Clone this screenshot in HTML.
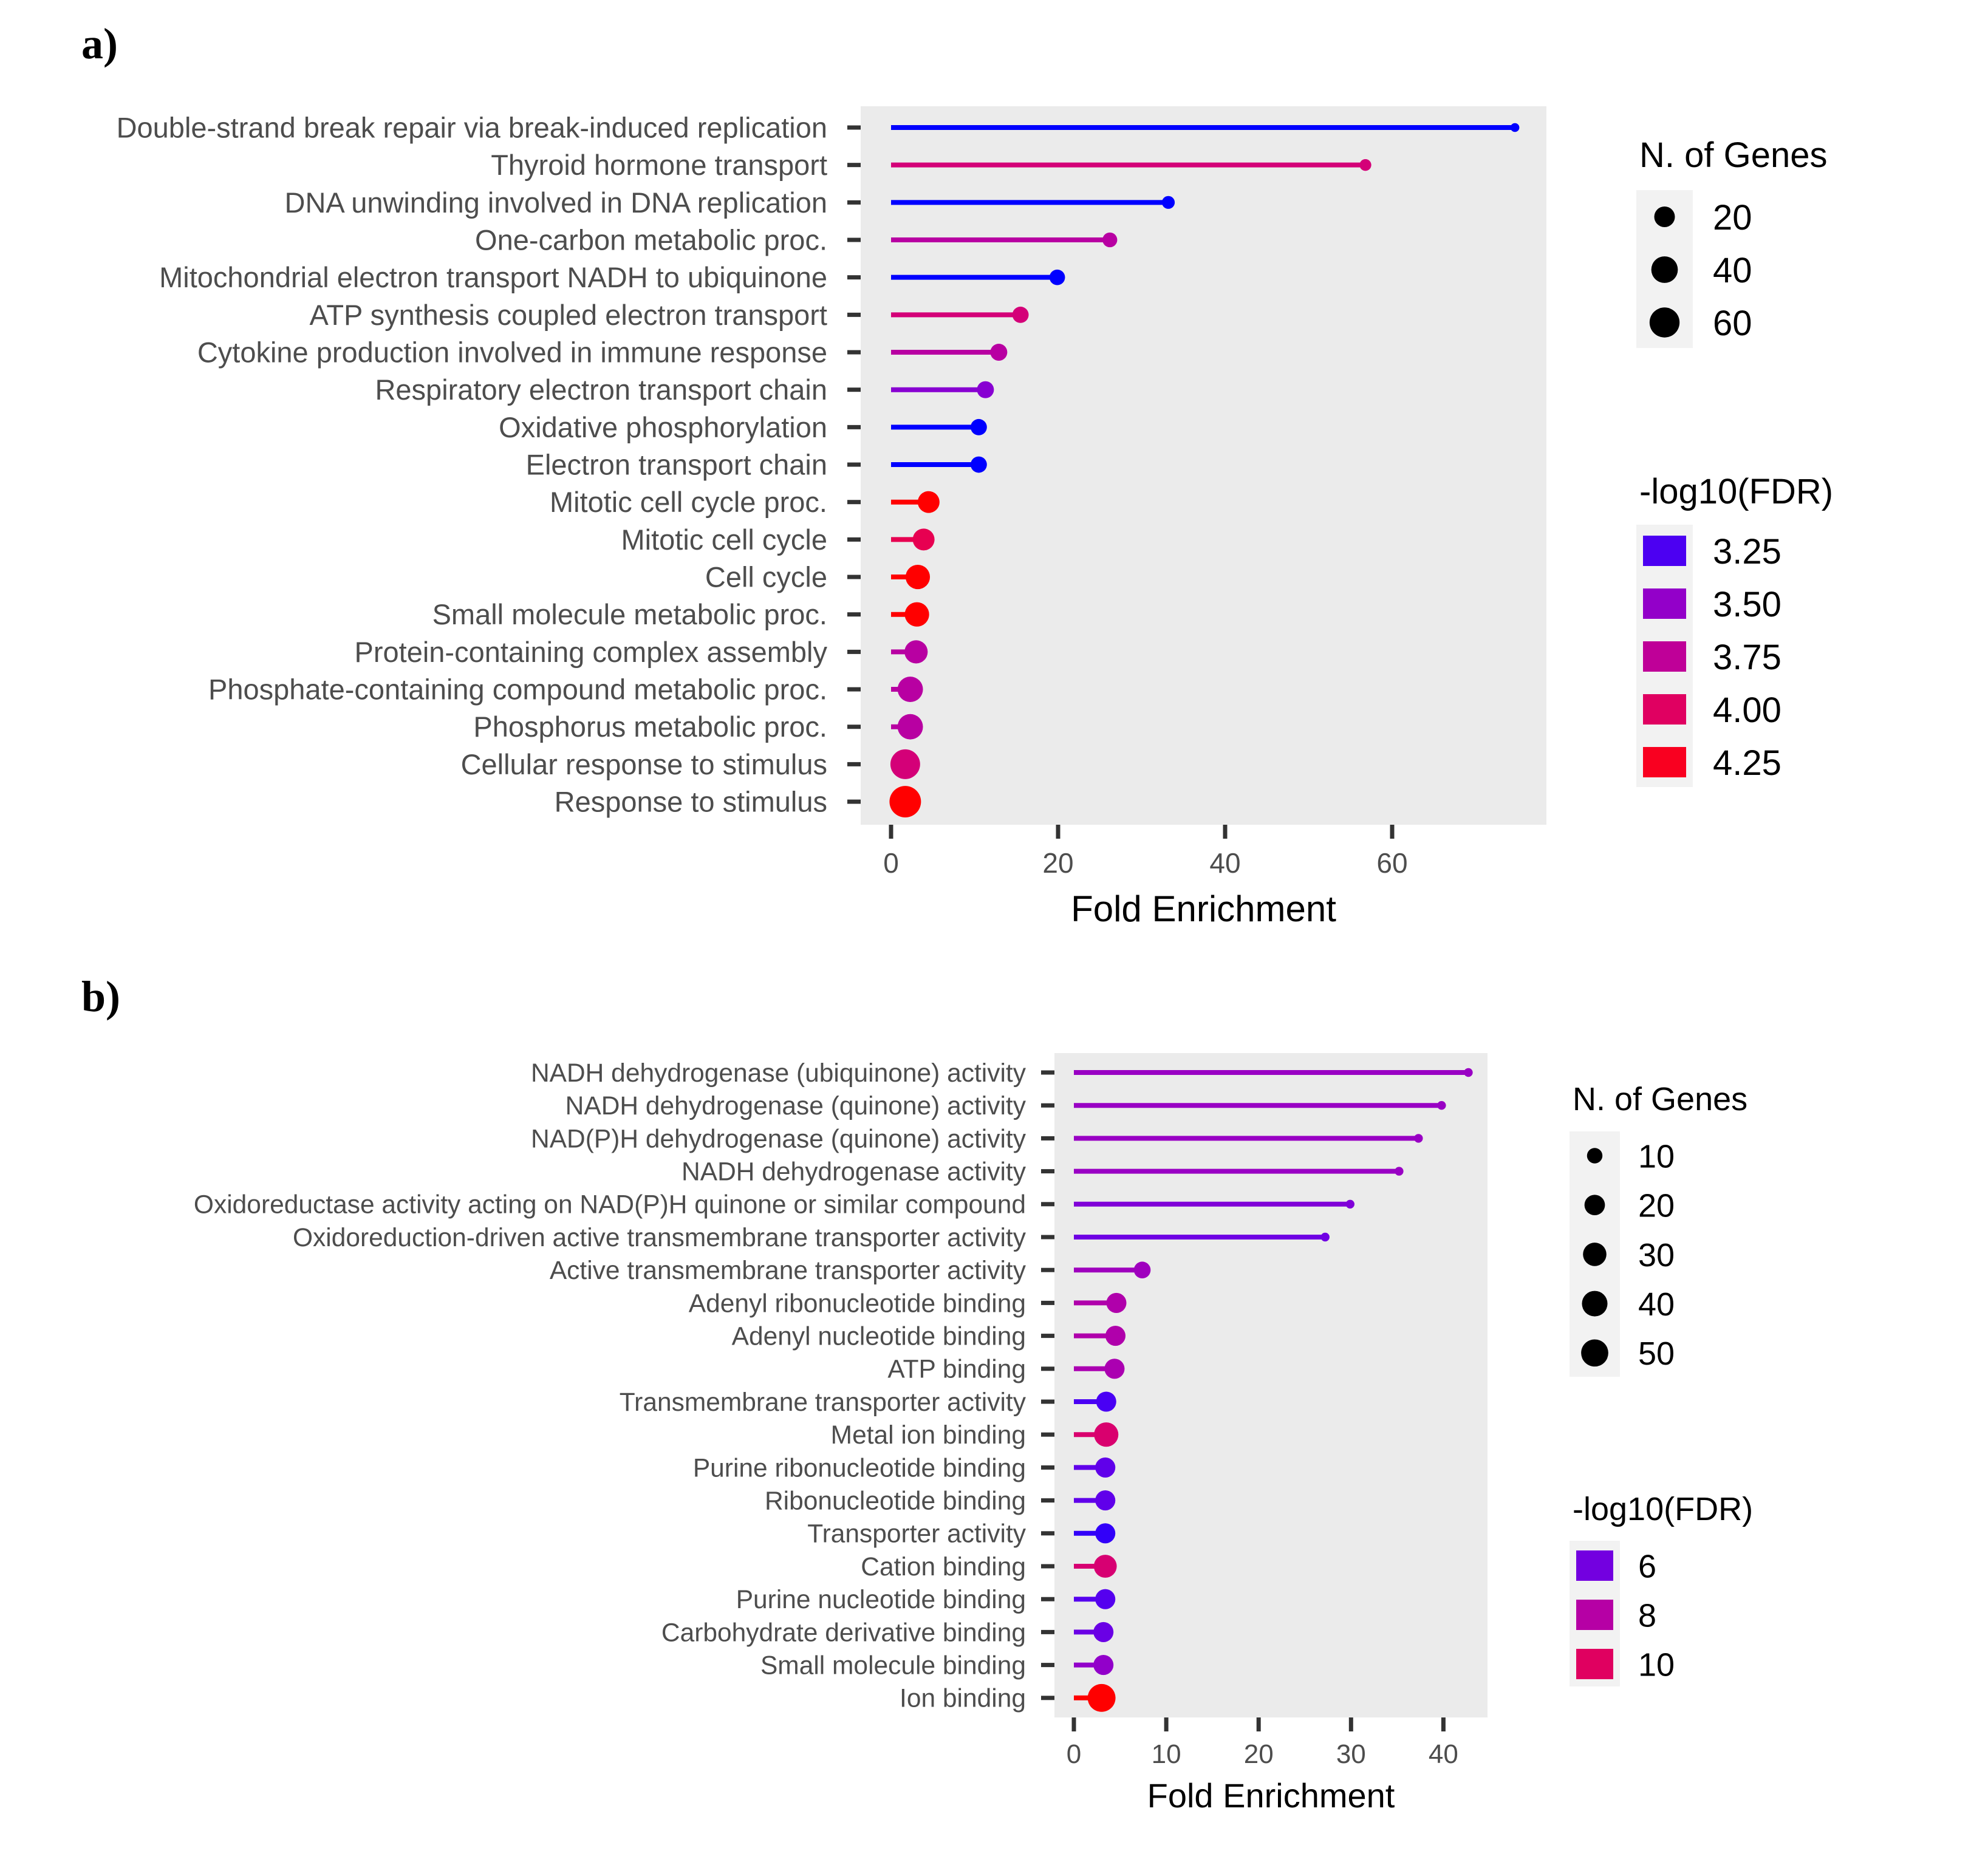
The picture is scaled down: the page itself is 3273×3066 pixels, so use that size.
<!DOCTYPE html>
<html><head><meta charset="utf-8">
<style>
html,body{margin:0;padding:0;background:#fff;}
svg{display:block;}
</style></head>
<body>
<svg id="fig" width="3273" height="3066" viewBox="0 0 3273 3066" xmlns="http://www.w3.org/2000/svg" font-family="Liberation Sans, sans-serif">
<rect x="0" y="0" width="3273" height="3066" fill="#fff"/>
<text x="134" y="96" style="font-family:'Liberation Serif',serif;font-weight:bold;font-size:72px" fill="#000">a)</text>
<text x="134" y="1665" style="font-family:'Liberation Serif',serif;font-weight:bold;font-size:72px" fill="#000">b)</text>
<g id="panelA"></g>
<g id="panelB"></g>
</svg>
<script>
// ---------- Panel A data ----------
const catsA = ["Double-strand break repair via break-induced replication","Thyroid hormone transport","DNA unwinding involved in DNA replication","One-carbon metabolic proc.","Mitochondrial electron transport NADH to ubiquinone","ATP synthesis coupled electron transport","Cytokine production involved in immune response","Respiratory electron transport chain","Oxidative phosphorylation","Electron transport chain","Mitotic cell cycle proc.","Mitotic cell cycle","Cell cycle","Small molecule metabolic proc.","Protein-containing complex assembly","Phosphate-containing compound metabolic proc.","Phosphorus metabolic proc.","Cellular response to stimulus","Response to stimulus"];
const foldA = [74.7,56.8,33.2,26.2,19.9,15.5,12.9,11.3,10.5,10.5,4.5,3.9,3.2,3.1,3.0,2.3,2.3,1.7,1.7];
const fdrA = [3.13,3.9,3.13,3.7,3.13,3.9,3.7,3.45,3.13,3.13,4.31,4.07,4.31,4.31,3.7,3.7,3.7,3.9,4.31];
const genesA = [5,7,8,10,11,12,13,13,12,12,23,23,31,31,27,35,35,58,72];
const xTicksA = [0,20,40,60];
const sizeLegendA = [20,40,60];
const colorLegendA = [3.25,3.50,3.75,4.00,4.25];
const colorLegendLabelsA = ["3.25","3.50","3.75","4.00","4.25"];

// ---------- Panel B data ----------
const catsB = ["NADH dehydrogenase (ubiquinone) activity","NADH dehydrogenase (quinone) activity","NAD(P)H dehydrogenase (quinone) activity","NADH dehydrogenase activity","Oxidoreductase activity acting on NAD(P)H quinone or similar compound","Oxidoreduction-driven active transmembrane transporter activity","Active transmembrane transporter activity","Adenyl ribonucleotide binding","Adenyl nucleotide binding","ATP binding","Transmembrane transporter activity","Metal ion binding","Purine ribonucleotide binding","Ribonucleotide binding","Transporter activity","Cation binding","Purine nucleotide binding","Carbohydrate derivative binding","Small molecule binding","Ion binding"];
const foldB = [42.7,39.8,37.3,35.2,29.9,27.2,7.4,4.6,4.5,4.4,3.5,3.5,3.4,3.4,3.4,3.4,3.4,3.2,3.2,3.0];
const fdrB = [7.0,7.0,7.0,7.0,6.3,5.9,7.2,7.8,7.8,7.6,5.2,9.6,5.6,5.6,4.9,9.5,5.4,5.8,6.8,11.9];
const genesB = [4,4,4,4,4,4,12,19,19,19,19,34,19,19,19,28,19,19,19,55];
const xTicksB = [0,10,20,30,40];
const sizeLegendB = [10,20,30,40,50];
const colorLegendB = [6,8,10];

const NS = "http://www.w3.org/2000/svg";
function mk(tag, attrs, parent){const e=document.createElementNS(NS,tag);for(const k in attrs)e.setAttribute(k,attrs[k]);parent.appendChild(e);return e;}

function s2l(c){c/=255;return c<=0.04045?c/12.92:Math.pow((c+0.055)/1.055,2.4);}
function l2s(c){c=c<=0.0031308?12.92*c:1.055*Math.pow(c,1/2.4)-0.055;return Math.max(0,Math.min(255,Math.round(c*255)));}
function toLab(r,g,b){r=s2l(r);g=s2l(g);b=s2l(b);let X=(0.4124*r+0.3576*g+0.1805*b)/0.95047,Y=0.2126*r+0.7152*g+0.0722*b,Z=(0.0193*r+0.1192*g+0.9505*b)/1.08883;const f=t=>t>0.008856?Math.cbrt(t):7.787*t+16/116;X=f(X);Y=f(Y);Z=f(Z);return[116*Y-16,500*(X-Y),200*(Y-Z)];}
function fromLab(L,a,b){let Y=(L+16)/116,X=a/500+Y,Z=Y-b/200;const f=t=>t*t*t>0.008856?t*t*t:(t-16/116)/7.787;X=f(X)*0.95047;Y=f(Y);Z=f(Z)*1.08883;const r=3.2406*X-1.5372*Y-0.4986*Z,g=-0.9689*X+1.8758*Y+0.0415*Z,bb=0.0557*X-0.2040*Y+1.0570*Z;return"rgb("+l2s(r)+","+l2s(g)+","+l2s(bb)+")";}
const LB=toLab(0,0,255),LR=toLab(255,0,0);
function colorFor(v,lo,hi){let t=(v-lo)/(hi-lo);t=Math.max(0,Math.min(1,t));t=Math.pow(t,1.3);return fromLab(LB[0]+(LR[0]-LB[0])*t,LB[1]+(LR[1]-LB[1])*t,LB[2]+(LR[2]-LB[2])*t);}

function drawPanel(g, o){
  const bg = mk("rect",{x:o.bgL,y:o.bgT,width:o.bgR-o.bgL,height:o.bgB-o.bgT,fill:"#ebebeb"},g);
  
  
  const xs = v => o.x0 + v*o.pxPerUnit;
  const ys = i => o.row0 + i*o.rowStep;
  o.cats.forEach((c,i)=>{
    const t = mk("text",{x:o.labelRight,y:ys(i)+o.labelFont*0.35,"text-anchor":"end","font-size":o.labelFont,fill:"#4d4d4d"},g);
    t.textContent=c;
    
    
    const tk = mk("rect",{x:o.bgL-22,y:ys(i)-3.5,width:22,height:7,fill:"#333"},g);
    
    
  });
  o.vals.forEach((v,i)=>{
    const col = colorFor(o.fdr[i],o.lo,o.hi);
    const ln = mk("line",{x1:xs(0),y1:ys(i),x2:xs(v),y2:ys(i),stroke:col,"stroke-width":8},g);
    
    
    const c = mk("circle",{cx:xs(v),cy:ys(i),r:o.rad(o.genes[i]),fill:col},g);
    
    
  });
  o.xticks.forEach(v=>{
    const tk = mk("rect",{x:xs(v)-3.5,y:o.bgB,width:7,height:23,fill:"#333"},g);
    
    
    const t = mk("text",{x:xs(v),y:o.tickLabelY,"text-anchor":"middle","font-size":o.tickFont,fill:"#4d4d4d"},g);
    t.textContent=String(v);
    
    
  });
  const title = mk("text",{x:(o.bgL+o.bgR)/2,y:o.titleY,"text-anchor":"middle","font-size":o.titleFont,fill:"#000"},g);
  title.textContent="Fold Enrichment";
  
  
  const st = mk("text",{x:o.legX,y:o.sizeTitleY,"font-size":o.legTitleFont,fill:"#000"},g);
  st.textContent="N. of Genes";
  
  
  const sb = mk("rect",{x:o.keyX,y:o.sizeBoxT,width:o.keyW,height:o.sizeBoxB-o.sizeBoxT,fill:"#f2f2f2"},g);
  
  
  o.sizeLeg.forEach((s,k)=>{
    const cy=o.sizeY0+k*o.sizeStep;
    const d = mk("circle",{cx:o.keyX+o.keyW/2,cy:cy,r:o.rad(s),fill:"#000"},g);
    
    
    const t = mk("text",{x:o.legLabelX,y:cy+o.legFont*0.36,"font-size":o.legFont,fill:"#000"},g);
    t.textContent=String(s);
    
    
  });
  const ct = mk("text",{x:o.legX,y:o.colTitleY,"font-size":o.legTitleFont,fill:"#000"},g);
  ct.textContent="-log10(FDR)";
  
  
  const cb = mk("rect",{x:o.keyX,y:o.colBoxT,width:o.keyW,height:o.colBoxB-o.colBoxT,fill:"#f2f2f2"},g);
  
  
  o.colLeg.forEach((v,k)=>{
    const cy=o.colY0+k*o.colStep;
    const sw = mk("rect",{x:o.keyX+11,y:cy-25,width:o.keyW-22,height:50,fill:colorFor(v,o.lo,o.hi)},g);
    
    
    const t = mk("text",{x:o.legLabelX,y:cy+o.legFont*0.36,"font-size":o.legFont,fill:"#000"},g);
    t.textContent=o.colLabels[k];
    
    
  });
}

drawPanel(document.getElementById('panelA'),{
  cats:catsA, vals:foldA, fdr:fdrA, genes:genesA, xticks:xTicksA, lo:3.13, hi:4.31,
  bgL:1417,bgR:2546,bgT:175,bgB:1358, x0:1467, pxPerUnit:275/20, row0:210, rowStep:61.67,
  labelRight:1362, labelFont:47, tickFont:46, tickLabelY:1437, titleY:1517, titleFont:60,
  rad:g=>Math.max(4,17+7*Math.log(g/20)),
  legX:2699, legLabelX:2820, legTitleFont:58, legFont:58, keyX:2694, keyW:93,
  sizeTitleY:275, sizeBoxT:313, sizeBoxB:573, sizeY0:357, sizeStep:87, sizeLeg:sizeLegendA,
  colTitleY:829, colBoxT:864, colBoxB:1296, colY0:907, colStep:87, colLeg:colorLegendA, colLabels:colorLegendLabelsA
});
drawPanel(document.getElementById('panelB'),{
  cats:catsB, vals:foldB, fdr:fdrB, genes:genesB, xticks:xTicksB, lo:4.5, hi:11.9,
  bgL:1736,bgR:2449,bgT:1734,bgB:2828, x0:1768, pxPerUnit:152.1/10, row0:1766, rowStep:54.2,
  labelRight:1689, labelFont:42.5, tickFont:44, tickLabelY:2903, titleY:2976, titleFont:56,
  rad:g=>Math.max(4,12.7+6*Math.log(g/10)),
  legX:2589, legLabelX:2697, legTitleFont:54, legFont:54, keyX:2584, keyW:83,
  sizeTitleY:1828, sizeBoxT:1863, sizeBoxB:2267, sizeY0:1903, sizeStep:81.2, sizeLeg:sizeLegendB,
  colTitleY:2503, colBoxT:2537, colBoxB:2777, colY0:2578, colStep:81, colLeg:colorLegendB, colLabels:colorLegendB.map(String)
});
</script>
</body></html>
